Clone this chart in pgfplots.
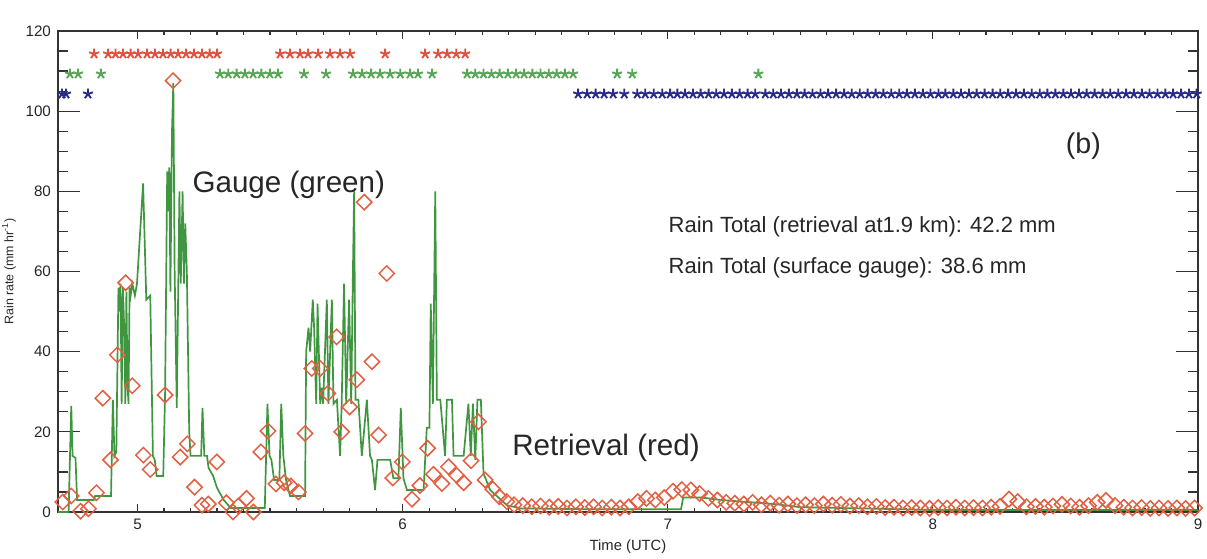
\documentclass[border=0pt]{standalone}
\usepackage{fontspec}
\setmainfont{Liberation Sans}
\usepackage{pgfplots}
\pgfplotsset{compat=1.18}
\usepackage{pgfplotstable}
\usetikzlibrary{calc}

\definecolor{gaugegreen}{RGB}{64,150,64}
\definecolor{retrred}{RGB}{226,96,66}
\definecolor{starred}{RGB}{222,82,62}
\definecolor{stargreen}{RGB}{88,165,88}
\definecolor{starblue}{RGB}{42,42,135}

% surface gauge (time UTC, rain rate)
\pgfplotstableread{
t v
4.700 0
4.740 0
4.750 26.5
4.755 14
4.766 13.5
4.772 3
4.835 3
4.840 4
4.900 4
4.907 28
4.913 14
4.920 15
4.928 56
4.932 50
4.936 57
4.940 27
4.945 56
4.950 45
4.954 27
4.958 55
4.962 32
4.966 27
4.970 56
4.974 54
4.980 57
4.990 54
4.998 57
5.021 82
5.033 53
5.048 54
5.058 14
5.065 13
5.072 9
5.097 9
5.104 30
5.112 85
5.116 75
5.120 86
5.124 55
5.130 95
5.135 107
5.140 60
5.148 26
5.158 80
5.163 57
5.170 80
5.175 57
5.180 72
5.186 60
5.195 20
5.200 14
5.240 14
5.245 26
5.252 14
5.262 14
5.268 11
5.285 9
5.300 6
5.325 3
5.345 1.5
5.350 1
5.480 1
5.490 27
5.498 14
5.505 13
5.515 8
5.535 8
5.542 27
5.550 14
5.560 8
5.575 4
5.632 4
5.636 40
5.645 46
5.651 40
5.661 53
5.666 46
5.674 27
5.679 52
5.689 27
5.695 31
5.700 27
5.714 53
5.720 27
5.733 53
5.739 27
5.752 28
5.764 14
5.770 27
5.779 57
5.787 27
5.798 53
5.806 27
5.812 58
5.817 80
5.822 28
5.833 28
5.846 14
5.865 28
5.877 14
5.884 13
5.896 5.5
5.905 13
5.953 13
5.965 8.4
5.984 8.4
5.993 26
6.003 8.4
6.016 5.5
6.079 5.5
6.091 21
6.101 21
6.106 52
6.114 27
6.123 80
6.129 28
6.142 28
6.160 14
6.167 28
6.186 28
6.192 14
6.230 14
6.248 27
6.257 14
6.265 27
6.274 13
6.282 28
6.295 28
6.305 9.6
6.330 5.5
6.393 1.7
6.443 0.9
6.700 0.7
7.050 0.7
7.058 3.6
7.130 3.6
7.200 3.0
7.300 2.5
7.400 2.0
7.500 1.2
7.800 0.8
8.000 0.5
9.000 0.5
}\gauge

% retrieval at 1.9 km
\pgfplotstableread{
t v
4.718 2.5
4.750 4.0
4.785 0.2
4.815 0.8
4.845 4.8
4.869 28.4
4.898 13.0
4.924 39.2
4.955 57.2
4.980 31.5
5.022 14.2
5.048 10.6
5.104 29.2
5.134 107.6
5.161 13.7
5.188 17.0
5.215 6.2
5.243 1.7
5.267 2.0
5.299 12.5
5.335 2.3
5.360 0.0
5.380 1.5
5.411 3.4
5.437 0.0
5.465 15.0
5.492 20.2
5.522 7.0
5.553 7.3
5.578 6.5
5.607 5.0
5.632 19.6
5.657 35.8
5.689 35.8
5.718 29.6
5.751 43.7
5.770 20.0
5.800 26.2
5.827 33.0
5.855 77.3
5.884 37.5
5.909 19.2
5.940 59.5
5.963 8.5
5.999 12.5
6.035 3.2
6.065 6.6
6.094 15.9
6.116 9.4
6.148 7.1
6.173 11.3
6.204 9.1
6.230 7.3
6.258 12.8
6.286 22.5
6.311 8.0
6.340 5.7
6.365 3.8
6.393 2.6
6.420 1.8
6.453 1.6
6.487 1.3
6.520 1.5
6.553 1.2
6.587 1.4
6.620 1.0
6.653 1.3
6.687 1.1
6.720 1.3
6.753 1.0
6.787 1.2
6.820 1.0
6.853 1.3
6.887 2.6
6.920 3.4
6.953 3.0
6.987 3.6
7.020 5.2
7.053 5.6
7.087 5.5
7.120 4.6
7.153 3.4
7.187 3.0
7.220 2.4
7.253 2.2
7.287 2.0
7.320 2.4
7.353 1.8
7.387 2.2
7.420 1.7
7.453 2.0
7.487 1.6
7.520 1.8
7.553 1.6
7.587 2.0
7.620 1.7
7.653 1.9
7.687 1.5
7.720 1.6
7.753 1.3
7.787 1.4
7.820 1.1
7.853 1.2
7.887 1.0
7.920 1.1
7.953 1.0
7.987 0.9
8.020 1.1
8.053 1.0
8.087 1.2
8.120 1.0
8.153 1.1
8.187 1.0
8.220 1.2
8.253 1.4
8.287 3.2
8.320 2.6
8.353 1.3
8.387 1.4
8.420 1.2
8.453 1.5
8.487 1.9
8.520 1.5
8.553 1.2
8.587 1.6
8.620 2.4
8.653 2.9
8.687 1.6
8.720 1.2
8.753 1.0
8.787 1.1
8.820 0.9
8.853 1.0
8.887 0.9
8.920 1.0
8.953 0.9
8.987 1.0
}\retr

% rain-type flags along the top
\pgfplotstableread{
t y
4.836 114.3
4.889 114.3
4.917 114.3
4.945 114.3
4.974 114.3
5.002 114.3
5.036 114.3
5.066 114.3
5.096 114.3
5.125 114.3
5.153 114.3
5.183 114.3
5.213 114.3
5.243 114.3
5.272 114.3
5.300 114.3
5.538 114.3
5.575 114.3
5.613 114.3
5.643 114.3
5.681 114.3
5.726 114.3
5.764 114.3
5.802 114.3
5.934 114.3
6.085 114.3
6.134 114.3
6.168 114.3
6.202 114.3
6.236 114.3
}\redstars

\pgfplotstableread{
t y
4.745 109.3
4.776 109.3
4.862 109.3
5.311 109.3
5.342 109.3
5.374 109.3
5.405 109.3
5.436 109.3
5.467 109.3
5.499 109.3
5.530 109.3
5.628 109.3
5.711 109.3
5.813 109.3
5.847 109.3
5.881 109.3
5.915 109.3
5.953 109.3
5.991 109.3
6.028 109.3
6.058 109.3
6.111 109.3
6.243 109.3
6.274 109.3
6.305 109.3
6.335 109.3
6.366 109.3
6.397 109.3
6.428 109.3
6.458 109.3
6.489 109.3
6.520 109.3
6.551 109.3
6.581 109.3
6.612 109.3
6.643 109.3
6.809 109.3
6.866 109.3
7.342 109.3
}\greenstars

\pgfplotstableread{
t y
4.715 104.3
4.730 104.3
4.813 104.3
6.662 104.3
6.696 104.3
6.728 104.3
6.760 104.3
6.794 104.3
6.836 104.3
6.885 104.3
6.915 104.3
6.947 104.3
6.979 104.3
7.009 104.3
7.036 104.3
7.065 104.3
7.095 104.3
7.124 104.3
7.154 104.3
7.183 104.3
7.212 104.3
7.242 104.3
7.271 104.3
7.301 104.3
7.330 104.3
7.368 104.3
7.398 104.3
7.427 104.3
7.457 104.3
7.487 104.3
7.516 104.3
7.546 104.3
7.576 104.3
7.605 104.3
7.635 104.3
7.665 104.3
7.694 104.3
7.724 104.3
7.754 104.3
7.784 104.3
7.813 104.3
7.843 104.3
7.873 104.3
7.902 104.3
7.932 104.3
7.962 104.3
7.991 104.3
8.021 104.3
8.047 104.3
8.077 104.3
8.106 104.3
8.136 104.3
8.165 104.3
8.195 104.3
8.225 104.3
8.254 104.3
8.284 104.3
8.314 104.3
8.343 104.3
8.373 104.3
8.403 104.3
8.432 104.3
8.462 104.3
8.492 104.3
8.521 104.3
8.551 104.3
8.580 104.3
8.610 104.3
8.640 104.3
8.669 104.3
8.699 104.3
8.729 104.3
8.758 104.3
8.788 104.3
8.817 104.3
8.847 104.3
8.877 104.3
8.906 104.3
8.936 104.3
8.966 104.3
8.995 104.3
}\bluestars

\begin{document}
\begin{tikzpicture}
\begin{axis}[
  scale only axis,
  width=570pt, height=240.5pt,
  xmin=4.7, xmax=9, ymin=0, ymax=120,
  xtick={5,6,7,8,9},
  ytick={0,20,...,120},
  minor x tick num=9,
  minor y tick num=3,
  tick pos=both,
  tick align=inside,
  xtick style={/pgfplots/major tick length=4pt, /pgfplots/minor tick length=2pt},
  ytick style={/pgfplots/major tick length=11pt, /pgfplots/minor tick length=5pt},
  axis line style={black!80, line width=0.6pt},
  every tick/.append style={black!80, line width=0.6pt},
  /pgf/number format/assume math mode=true,
  ticklabel style={font=\fontsize{7.6}{9}\selectfont, text=black!85},
  xlabel={Time (UTC)},
  xlabel style={font=\fontsize{7.4}{9}\selectfont, text=black!85, yshift=2pt},
  ylabel={Rain rate (mm hr\textsuperscript{-1})},
  ylabel style={font=\fontsize{6.2}{8}\selectfont, text=black!85, yshift=-2pt},
]
\addplot[gaugegreen, line width=0.85pt, no marks] table[x=t, y=v] {\gauge};
\addplot[only marks, mark=square, mark size=2.7pt,
  mark options={rotate=45, draw=retrred, line width=0.75pt}] table[x=t, y=v] {\retr};
\addplot[only marks, mark=star, mark size=2.6pt,
  mark options={draw=starred, line width=0.95pt}] table[x=t, y=y] {\redstars};
\addplot[only marks, mark=star, mark size=2.6pt,
  mark options={draw=stargreen, line width=0.95pt}] table[x=t, y=y] {\greenstars};
\addplot[only marks, mark=star, mark size=2.6pt,
  mark options={draw=starblue, line width=0.95pt}] table[x=t, y=y] {\bluestars};

\node[anchor=base west, inner sep=0pt, font=\fontsize{14.8}{17}\selectfont, text=black!85]
  at (axis cs:5.206,79.7) {Gauge (green)};
\node[anchor=base west, inner sep=0pt, font=\fontsize{14.8}{17}\selectfont, text=black!85]
  at (axis cs:6.412,14.2) {Retrieval (red)};
\node[anchor=base west, inner sep=0pt, font=\fontsize{11}{13}\selectfont, text=black!85]
  at (axis cs:7.002,69.8) {Rain Total (retrieval at1.9 km): 42.2 mm};
\node[anchor=base west, inner sep=0pt, font=\fontsize{11}{13}\selectfont, text=black!85]
  at (axis cs:7.002,59.6) {Rain Total (surface gauge): 38.6 mm};
\node[anchor=base west, inner sep=0pt, font=\fontsize{14.3}{17}\selectfont, text=black!85]
  at (axis cs:8.50,89.5) {(b)};
\node[anchor=base, inner sep=0pt, font=\fontsize{9}{11}\selectfont, text=black!85]
  at (rel axis cs:0.5,1) [yshift=5.5pt] {DWN 93347: Rain Rate at 1.9 km};
\end{axis}
\pgfresetboundingbox
\path ($(current axis.south west)+(-29pt,-23pt)$) rectangle ($(current axis.north east)+(4.5pt,15.5pt)$);
\end{tikzpicture}
\end{document}
